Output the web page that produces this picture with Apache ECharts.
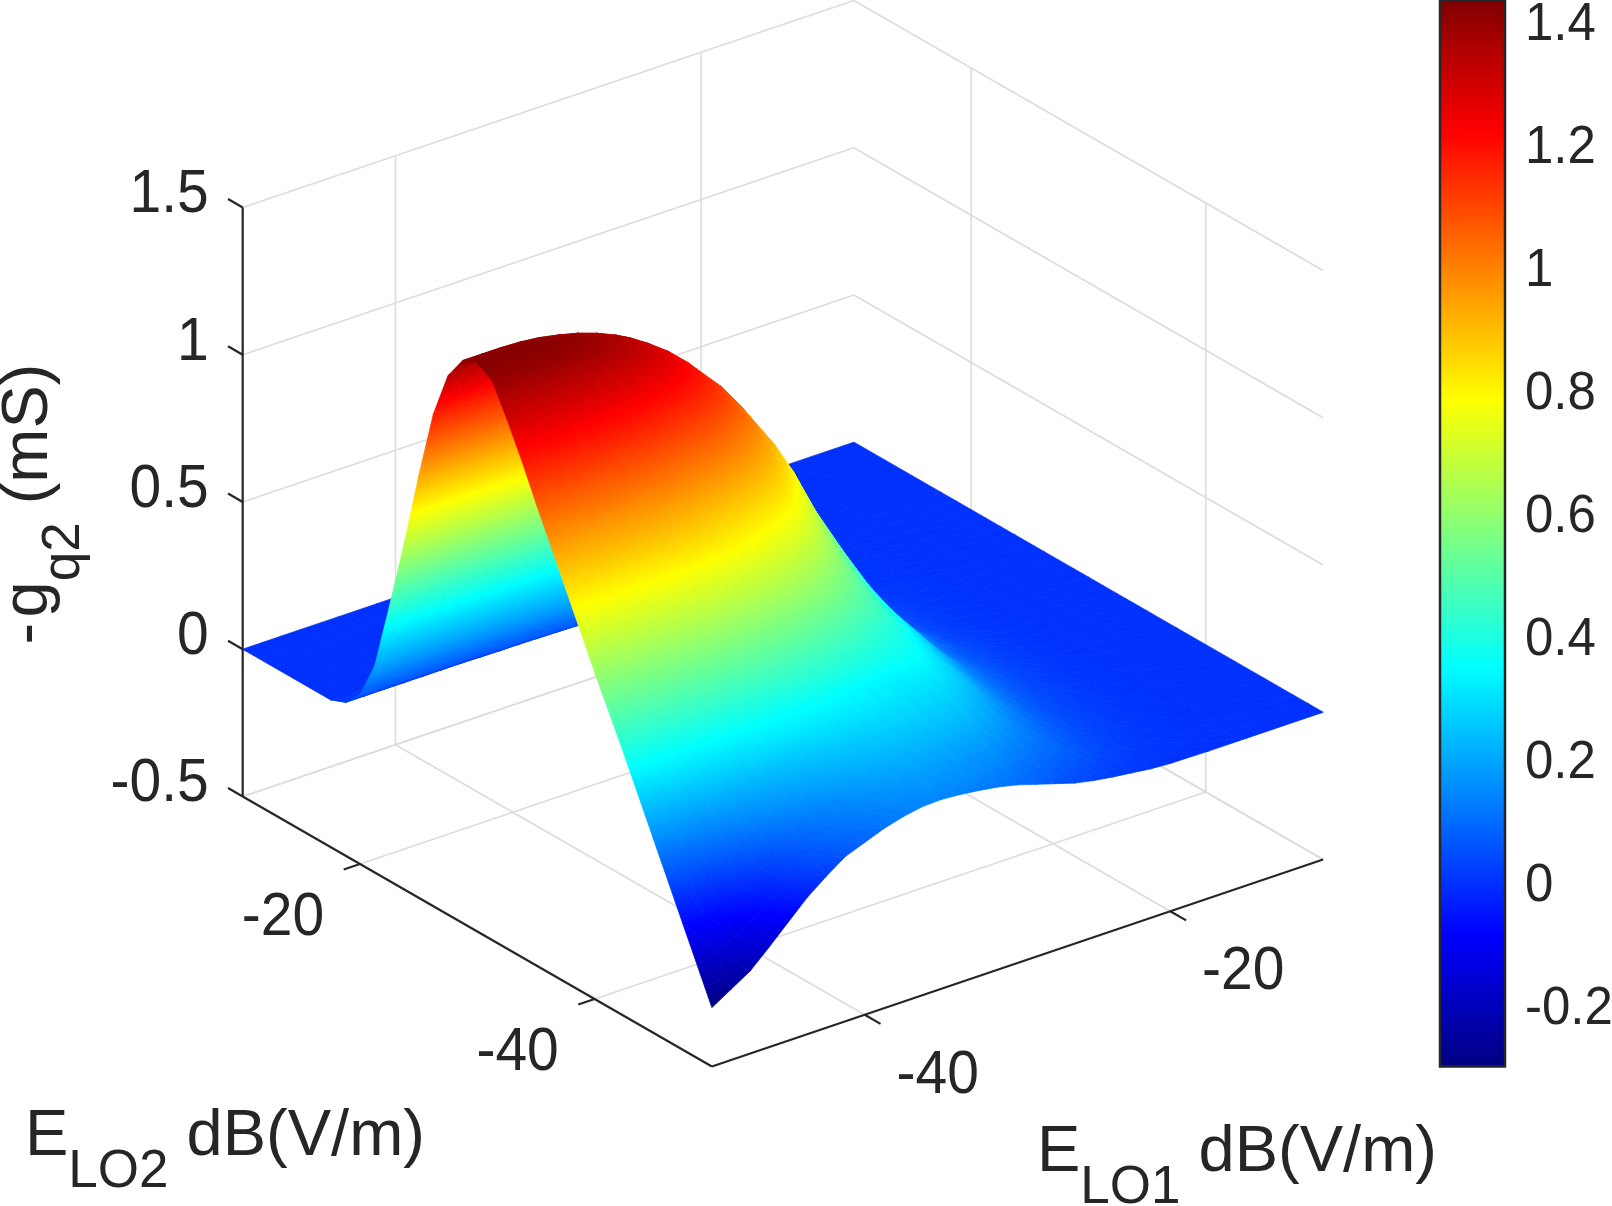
<!DOCTYPE html>
<html lang="en">

<head>
    <meta charset="UTF-8">
    <title>-gq2 surface</title>
    <script src="https://cdn.jsdelivr.net/npm/echarts@6/dist/echarts.min.js"></script>
    <style>
        html, body { margin: 0; padding: 0; background: #fff; }
    </style>
</head>

<body>
    <div id="main" style="width: 1612px; height: 1206px;"></div>
    <script type="text/javascript">
        // grid of the surface, dB(V/m)
        var lo1Values = [-50, -48.75, -47.5, -46.25, -45, -43.75, -42.5, -41.25, -40, -38.75, -37.5, -36.25, -35, -33.75, -32.5, -31.25, -30, -28.75, -27.5, -26.25, -25, -23.75, -22.5, -21.25, -20, -17.5, -15, -10];
        var lo2Values = [-10, -17.5, -18.75, -20, -21.25, -22.5, -23.75, -25, -26.25, -27.5, -28.75, -30, -31.25, -32.5, -33.75, -35, -36.25, -37.5, -40, -42.5, -45, -47.5, -48.75, -50];
        // -gq2 in mS, one row per lo2 value, one column per lo1 value
        var gq2 = [
            [0, 0, 0, 0, 0, 0, 0, 0, 0, 0, 0, 0, 0, 0, 0, 0, 0, 0, 0, 0, 0, 0, 0, 0, 0, 0, 0, 0],
            [0, 0, 0, 0, 0, 0, 0, 0, 0, 0, 0, 0, 0, 0, 0, 0, 0, 0, 0, 0, 0, 0, 0, 0, 0, 0, 0, 0],
            [.02, .02, .02, .02, .02, .02, .02, .019, .018, .018, .017, .016, .015, .014, .013, .012, .009, .008, .005, .004, .003, .001, .001, 0, 0, 0, 0, 0],
            [.075, .075, .075, .075, .074, .074, .073, .072, .07, .068, .066, .062, .059, .054, .049, .043, .037, .029, .022, .016, .011, .007, .004, .002, .001, 0, 0, 0],
            [.2, .2, .2, .2, .199, .197, .194, .191, .187, .182, .175, .167, .156, .144, .13, .114, .098, .078, .059, .042, .028, .018, .01, .006, .003, .001, 0, 0],
            [.43, .43, .43, .429, .427, .423, .418, .412, .403, .39, .376, .358, .337, .31, .28, .246, .211, .168, .126, .09, .06, .038, .022, .012, .006, .001, 0, 0],
            [.67, .67, .67, .669, .665, .659, .651, .641, .628, .608, .586, .558, .525, .484, .436, .383, .328, .261, .197, .141, .094, .059, .034, .019, .009, .002, 0, 0],
            [.93, .93, .93, .928, .923, .915, .904, .89, .871, .844, .813, .775, .728, .671, .605, .532, .456, .363, .273, .195, .13, .082, .047, .026, .013, .003, 0, 0],
            [1.17, 1.17, 1.17, 1.168, 1.162, 1.151, 1.137, 1.12, 1.096, 1.062, 1.023, .975, .916, .845, .761, .669, .573, .456, .344, .246, .164, .103, .059, .033, .016, .004, 0, 0],
            [1.33, 1.33, 1.33, 1.327, 1.321, 1.309, 1.293, 1.273, 1.246, 1.208, 1.162, 1.108, 1.041, .96, .865, .761, .652, .519, .391, .279, .186, .117, .067, .037, .019, .004, 0, 0],
            [1.41, 1.41, 1.41, 1.407, 1.4, 1.387, 1.371, 1.349, 1.321, 1.28, 1.232, 1.175, 1.104, 1.018, .917, .807, .691, .55, .415, .296, .197, .124, .071, .039, .02, .004, 0, 0],
            [1.43, 1.43, 1.43, 1.427, 1.42, 1.407, 1.39, 1.369, 1.34, 1.298, 1.25, 1.191, 1.12, 1.032, .93, .818, .7, .558, .42, .3, .2, .126, .072, .04, .02, .004, 0, 0],
            [1.4, 1.4, 1.4, 1.4, 1.395, 1.385, 1.37, 1.345, 1.315, 1.28, 1.235, 1.18, 1.115, 1.03, .93, .815, .685, .555, .42, .3, .2, .13, .076, .042, .022, .004, 0, 0],
            [1.3, 1.305, 1.31, 1.31, 1.305, 1.295, 1.28, 1.26, 1.235, 1.21, 1.175, 1.13, 1.07, .995, .905, .79, .65, .53, .41, .3, .2, .135, .08, .045, .025, .005, 0, 0],
            [1.19, 1.195, 1.2, 1.2, 1.2, 1.19, 1.18, 1.165, 1.14, 1.115, 1.085, 1.04, .985, .92, .83, .72, .595, .49, .38, .28, .19, .13, .08, .047, .027, .005, 0, 0],
            [1.07, 1.075, 1.08, 1.08, 1.08, 1.075, 1.07, 1.055, 1.03, 1.01, .98, .945, .9, .835, .75, .65, .54, .44, .345, .26, .175, .12, .075, .047, .028, .005, 0, 0],
            [.955, .96, .965, .965, .965, .96, .955, .94, .92, .9, .875, .84, .8, .75, .675, .59, .5, .41, .33, .25, .17, .115, .075, .047, .028, .006, 0, 0],
            [.84, .845, .85, .85, .85, .85, .85, .84, .83, .805, .78, .745, .71, .66, .6, .535, .465, .385, .315, .24, .165, .115, .075, .047, .028, .006, 0, 0],
            [.61, .615, .62, .62, .62, .62, .62, .61, .6, .585, .57, .55, .52, .49, .45, .42, .39, .335, .27, .205, .145, .1, .065, .042, .028, .006, 0, 0],
            [.39, .39, .39, .39, .39, .39, .39, .385, .38, .375, .37, .36, .35, .34, .33, .33, .325, .285, .235, .175, .125, .085, .055, .037, .023, .005, 0, 0],
            [.16, .17, .18, .19, .2, .21, .22, .23, .24, .25, .26, .265, .27, .27, .27, .26, .25, .22, .18, .135, .1, .072, .047, .03, .019, .004, 0, 0],
            [-.07, -.055, -.04, -.01, .02, .055, .09, .115, .14, .16, .18, .19, .2, .195, .19, .18, .17, .145, .12, .1, .08, .055, .035, .022, .012, .002, 0, 0],
            [-.185, -.16, -.13, -.09, -.045, .01, .055, .085, .11, .135, .152, .16, .168, .165, .16, .15, .135, .11, .09, .07, .055, .035, .022, .012, .006, .001, 0, 0],
            [-.3, -.26, -.22, -.16, -.097, -.035, .015, .06, .085, .11, .128, .14, .143, .138, .13, .12, .105, .085, .065, .045, .032, .022, .014, .006, .002, 0, 0, 0]
        ];
        var lo1Ticks = [-40, -20];
        var lo2Ticks = [-20, -40];
        var zTicks = [-0.5, 0, 0.5, 1, 1.5];
        var colorTicks = [-0.2, 0, 0.2, 0.4, 0.6, 0.8, 1, 1.2, 1.4];

        var lo1Min = -50, lo1Max = -10, lo2Min = -50, lo2Max = -10, zMin = -0.5, zMax = 1.5;
        var cMin = -0.3, cMax = 1.4345;
        var inkColor = '#262626', gridColor = '#dcdcdc';
        var fontName = '"Liberation Sans", Arial, sans-serif';

        // jet colormap
        var jet = [[0, 0, 0, 128], [0.125, 0, 0, 255], [0.375, 0, 255, 255], [0.625, 255, 255, 0], [0.875, 255, 0, 0], [1, 128, 0, 0]];

        function jetColor(f) {
            f = Math.max(0, Math.min(1, f));
            for (var i = 1; i < jet.length; i++) {
                if (f <= jet[i][0]) {
                    var k = (f - jet[i - 1][0]) / (jet[i][0] - jet[i - 1][0]);
                    return 'rgb(' + [1, 2, 3].map(function (c) {
                        return Math.round(jet[i - 1][c] + k * (jet[i][c] - jet[i - 1][c]));
                    }).join(',') + ')';
                }
            }
            return 'rgb(128,0,0)';
        }

        // orthographic view of the matlab box, gives the position on the hidden plane axes
        function project(lo1, lo2, z) {
            var a = lo1 - lo1Min, b = lo2Max - lo2, c = z - zMin;
            return [242.7 + a * 15.28 + b * 11.73, 796.5 - a * 5.175 + b * 6.75 - c * 294.5];
        }

        // fill for a triangle: the colour only depends on z, so a linear gradient across it is exact
        function triangleFill(p, v) {
            var lo = 0, hi = 0;
            for (var i = 1; i < 3; i++) {
                if (v[i] < v[lo]) lo = i;
                if (v[i] > v[hi]) hi = i;
            }
            var toF = function (z) { return (z - cMin) / (cMax - cMin); };
            var ux = p[1][0] - p[0][0], uy = p[1][1] - p[0][1];
            var wx = p[2][0] - p[0][0], wy = p[2][1] - p[0][1];
            var det = ux * wy - wx * uy;
            if (v[hi] - v[lo] < 1e-6 || Math.abs(det) < 1e-6) return jetColor(toF((v[0] + v[1] + v[2]) / 3));
            var dv1 = v[1] - v[0], dv2 = v[2] - v[0];
            var gx = (dv1 * wy - dv2 * uy) / det, gy = (dv2 * ux - dv1 * wx) / det;
            var len = gx * gx + gy * gy, range = v[hi] - v[lo];
            var x0 = p[lo][0], y0 = p[lo][1];
            var x1 = x0 + gx * range / len, y1 = y0 + gy * range / len;
            var f0 = toF(v[lo]), f1 = toF(v[hi]);
            var stops = [{ offset: 0, color: jetColor(f0) }];
            jet.forEach(function (s) {
                if (s[0] > f0 && s[0] < f1) stops.push({ offset: (s[0] - f0) / (f1 - f0), color: jetColor(s[0]) });
            });
            stops.push({ offset: 1, color: jetColor(f1) });
            return new echarts.graphic.LinearGradient(x0, y0, x1, y1, stops, true);
        }

        // triangles from far to near, the front corner is lo1 = lo2 = -50
        var triangles = [];
        for (var r = 0; r < lo2Values.length - 1; r++) {
            for (var q = lo1Values.length - 2; q >= 0; q--) {
                triangles.push([q, r, 0], [q, r, 1]);
            }
        }

        // light grid of the floor and the two back walls
        var gridSegments = [
            [[lo1Min, lo2Max, zMin], [lo1Max, lo2Max, zMin]],
            [[lo1Max, lo2Max, zMin], [lo1Max, lo2Min, zMin]]
        ];
        lo1Ticks.forEach(function (t) {
            gridSegments.push([[t, lo2Min, zMin], [t, lo2Max, zMin]]);
            gridSegments.push([[t, lo2Max, zMin], [t, lo2Max, zMax]]);
        });
        lo2Ticks.forEach(function (t) {
            gridSegments.push([[lo1Min, t, zMin], [lo1Max, t, zMin]]);
            gridSegments.push([[lo1Max, t, zMin], [lo1Max, t, zMax]]);
        });
        zTicks.forEach(function (t) {
            gridSegments.push([[lo1Min, lo2Max, t], [lo1Max, lo2Max, t]]);
            gridSegments.push([[lo1Max, lo2Max, t], [lo1Max, lo2Min, t]]);
        });

        // dark axes and ticks
        var axisSegments = [
            [[lo1Min, lo2Max, zMin], [lo1Min, lo2Min, zMin]],
            [[lo1Min, lo2Min, zMin], [lo1Max, lo2Min, zMin]],
            [[lo1Min, lo2Max, zMin], [lo1Min, lo2Max, zMax]]
        ];
        lo2Ticks.forEach(function (t) { axisSegments.push([[lo1Min, t, zMin], [lo1Min - 1.07, t, zMin]]); });
        lo1Ticks.forEach(function (t) { axisSegments.push([[t, lo2Min, zMin], [t, lo2Min - 1.35, zMin]]); });
        zTicks.forEach(function (t) { axisSegments.push([[lo1Min, lo2Max, t], [lo1Min, lo2Max + 1.25, t]]); });

        var tickLabels = [];
        lo2Ticks.forEach(function (t) { tickLabels.push({ p: [lo1Min, t, zMin], text: String(t), dx: -77, dy: 54, align: 'center' }); });
        lo1Ticks.forEach(function (t) { tickLabels.push({ p: [t, lo2Min, zMin], text: String(t), dx: 73, dy: 61, align: 'center' }); });
        zTicks.forEach(function (t) { tickLabels.push({ p: [lo1Min, lo2Max, t], text: String(t), dx: -34, dy: -12, align: 'right' }); });

        function segmentSeries(segments, color, width) {
            return {
                type: 'custom', xAxisIndex: 0, yAxisIndex: 0, silent: true, clip: false, animation: false,
                data: segments.map(function (s, i) { return [i]; }),
                renderItem: function (params, api) {
                    var s = segments[params.dataIndex];
                    var a = api.coord(project(s[0][0], s[0][1], s[0][2]));
                    var b = api.coord(project(s[1][0], s[1][1], s[1][2]));
                    return {
                        type: 'line',
                        shape: { x1: a[0], y1: a[1], x2: b[0], y2: b[1] },
                        style: { stroke: color, lineWidth: width, fill: null }
                    };
                }
            };
        }

        var myChart = echarts.init(document.getElementById('main'), null, { renderer: 'canvas' });

        var titleRich = {
            m: { fontSize: 65, fontFamily: fontName, fill: inkColor, color: inkColor, padding: [0, 0, 35, 0] },
            s: { fontSize: 53, fontFamily: fontName, fill: inkColor, color: inkColor, padding: [35, 0, 0, 0] }
        };

        var option = {
            backgroundColor: '#fff',
            animation: false,
            grid: [
                { left: 0, top: 0, width: 1612, height: 1206, show: false, outerBoundsMode: 'none' },
                { left: 1440, top: 0.5, width: 65, height: 1066, show: false, outerBoundsMode: 'none' }
            ],
            xAxis: [
                { type: 'value', gridIndex: 0, min: 0, max: 1612, show: false },
                {
                    type: 'value', gridIndex: 1, min: 0, max: 1, position: 'top', axisTick: { show: false },
                    axisLabel: { show: false }, splitLine: { show: false },
                    axisLine: { show: false }
                }
            ],
            yAxis: [
                { type: 'value', gridIndex: 0, min: 0, max: 1206, inverse: true, show: false },
                {
                    type: 'value', gridIndex: 1, min: cMin, max: cMax, position: 'right', splitLine: { show: false },
                    axisLine: { show: false, onZero: false },
                    axisTick: { show: true, inside: true, length: 12, lineStyle: { color: inkColor, width: 2 }, customValues: colorTicks },
                    axisLabel: { show: false }
                }
            ],
            series: [
                segmentSeries(gridSegments, gridColor, 1.6),
                {
                    type: 'custom', xAxisIndex: 0, yAxisIndex: 0, silent: true, clip: false, animation: false,
                    progressive: 0,
                    data: triangles,
                    renderItem: function (params, api) {
                        var q = api.value(0), r = api.value(1), t = api.value(2);
                        var corners = t === 0 ? [[q + 1, r], [q, r], [q + 1, r + 1]] : [[q, r], [q, r + 1], [q + 1, r + 1]];
                        var v = corners.map(function (c) { return gq2[c[1]][c[0]]; });
                        var pts = corners.map(function (c, n) {
                            return api.coord(project(lo1Values[c[0]], lo2Values[c[1]], v[n]));
                        });
                        var fill = triangleFill(pts, v);
                        return {
                            type: 'polygon',
                            shape: { points: pts },
                            style: { fill: fill, stroke: fill, lineWidth: 0.8, lineJoin: 'round' }
                        };
                    }
                },
                segmentSeries(axisSegments, inkColor, 2.2),
                {
                    type: 'custom', xAxisIndex: 0, yAxisIndex: 0, silent: true, clip: false, animation: false,
                    data: tickLabels.map(function (l, i) { return [i]; }),
                    renderItem: function (params, api) {
                        var l = tickLabels[params.dataIndex];
                        var a = api.coord(project(l.p[0], l.p[1], l.p[2]));
                        return {
                            type: 'text',
                            x: a[0] + l.dx, y: a[1] + l.dy, scaleY: 1.07,
                            style: {
                                text: l.text, fill: inkColor, fontSize: 57, fontFamily: fontName,
                                align: l.align, verticalAlign: 'middle'
                            }
                        };
                    }
                },
                // colour bar, same map as the surface
                {
                    type: 'custom', xAxisIndex: 1, yAxisIndex: 1, silent: true, clip: false, animation: false,
                    data: [[0, cMin, 1, cMax]],
                    renderItem: function (params, api) {
                        var a = api.coord([api.value(0), api.value(3)]);
                        var b = api.coord([api.value(2), api.value(1)]);
                        return {
                            type: 'rect',
                            shape: { x: a[0], y: a[1], width: b[0] - a[0], height: b[1] - a[1] },
                            style: {
                                fill: new echarts.graphic.LinearGradient(0, 1, 0, 0, jet.map(function (s) {
                                    return { offset: s[0], color: jetColor(s[0]) };
                                })),
                                stroke: inkColor, lineWidth: 2.5
                            }
                        };
                    }
                },
                // colour bar labels, the axis labels can not be moved down a little
                {
                    type: 'custom', xAxisIndex: 1, yAxisIndex: 1, silent: true, clip: false, animation: false,
                    data: colorTicks.map(function (t) { return [1, t]; }),
                    renderItem: function (params, api) {
                        var a = api.coord([api.value(0), api.value(1)]);
                        return {
                            type: 'text',
                            x: a[0] + 20, y: a[1] + 4, scaleY: 1.05,
                            style: {
                                text: String(api.value(1)), fill: inkColor, fontSize: 51, fontFamily: fontName,
                                align: 'left', verticalAlign: 'middle'
                            }
                        };
                    }
                }
            ],
            graphic: [
                {
                    type: 'text', x: 25, y: 1155, silent: true,
                    style: { text: '{m|E}{s|LO2}{m| dB(V/m)}', rich: titleRich, align: 'left', verticalAlign: 'middle' }
                },
                {
                    type: 'text', x: 1037, y: 1171, silent: true,
                    style: { text: '{m|E}{s|LO1}{m| dB(V/m)}', rich: titleRich, align: 'left', verticalAlign: 'middle' }
                },
                {
                    type: 'text', x: 47, y: 504, rotation: Math.PI / 2, silent: true,
                    style: { text: '{m|-\u200ag}{s|q2}{m| (mS)}', rich: titleRich, align: 'center', verticalAlign: 'middle' }
                }
            ]
        };
        myChart.setOption(option);
    </script>

</body>

</html>
